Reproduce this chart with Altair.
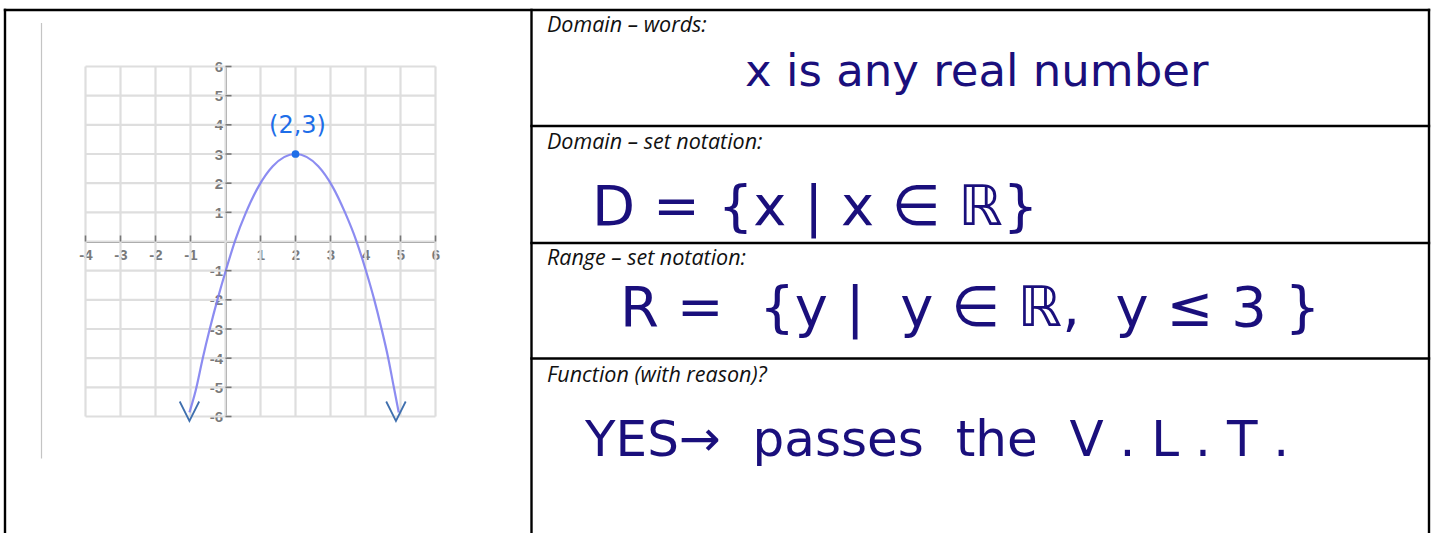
import altair as alt
import pandas as pd

# ---------------- data ----------------
# parabola through the vertex, sampled along the drawn curve
curve_x = [-1.03, -0.85, -0.65, -0.45, -0.22, 0.02, 0.28, 0.58, 0.95, 1.35, 2.0,
           2.65, 3.05, 3.42, 3.73, 4.0, 4.24, 4.46, 4.65, 4.81, 4.95]
curve_y = [-5.86, -5.1, -4.0, -3.0, -1.95, -0.95, 0.05, 0.98, 1.9, 2.58, 3.0,
           2.58, 1.9, 0.98, 0.05, -0.95, -1.95, -3.0, -4.0, -5.0, -5.86]

# arrowheads at both ends of the curve
arrow_x = [-1.03, 4.87]
arrow_y = [-5.82, -5.82]

# vertex
vertex_x = [2]
vertex_y = [3]
vertex_label = ["(2,3)"]

# axis ticks
x_ticks = [-4, -3, -2, -1, 0, 1, 2, 3, 4, 5, 6]
y_ticks = [-6, -5, -4, -3, -2, -1, 0, 1, 2, 3, 4, 5, 6]

# worksheet rows (non-breaking spaces keep the wide handwritten gaps)
NB = "\u00a0"
row_labels = ["Domain – words:", "Domain – set notation:",
              "Range – set notation:", "Function (with reason)?"]
row_answers = [
    "x is any real number",
    "D = {x | x ∈ ℝ}",
    f"R{NB}={NB}{NB}{{y{NB}|{NB}{NB}y{NB}∈{NB}ℝ,{NB}{NB}y{NB}≤{NB}3{NB}}}",
    f"YES→{NB}{NB}passes{NB}{NB}the{NB}{NB}V{NB}.{NB}L{NB}.{NB}T{NB}.",
]

# ---------------- layout (pixels) ----------------
W, H = 1432, 533
GX0, GX1 = 85.5, 435.5        # grid box, left/right
GY0, GY1 = 66.5, 416.5        # grid box, top/bottom
X_AXIS_Y = 241.5
Y_AXIS_X = 225.5

TABLE_L, TABLE_R, TABLE_T, TABLE_B = 5, 1429, 10, 545
COL_SPLIT = 531.5
ROW_LINES = [126, 243, 358.5]

label_x = 547
label_base = [32, 149, 265, 382]
answer_x = [745, 592, 620, 585]
answer_base = [86, 225, 326, 456]
answer_size = [45, 56, 56, 50]

INK = "#1a0f7c"
GRID = "#dedede"

# ---------------- graph ----------------
xs = alt.Scale(domain=[-4, 6], range=[GX0, GX1], nice=False, zero=False)
ys = alt.Scale(domain=[-6, 6], range=[GY1, GY0], nice=False, zero=False)

hide_zero = "datum.value == 0 ? '' : '' + datum.value"
common_axis = dict(
    grid=False, domainColor="#7c7c7c", domainWidth=2,
    ticks=False, tickSize=0,
    labelFont="Liberation Sans", labelFontSize=15, labelFontWeight="bold",
    labelColor="#7a7a7a",
    labelFlush=False, labelOverlap=False, labelExpr=hide_zero, title="",
)
x_axis = alt.Axis(orient="bottom", offset=X_AXIS_Y - H, values=x_ticks,
                  labelPadding=6, **common_axis)
y_axis = alt.Axis(orient="left", offset=-Y_AXIS_X, values=y_ticks,
                  labelPadding=3, **common_axis)

# grid lines at every tick, across the full grid box
vgrid_df = pd.DataFrame({"v": x_ticks, "lo": y_ticks[0], "hi": y_ticks[-1]})
vgrid = alt.Chart(vgrid_df).mark_rule(color=GRID, strokeWidth=2.2).encode(
    x=alt.X("v:Q", scale=xs, axis=x_axis),
    y=alt.Y("lo:Q", scale=ys, axis=y_axis), y2="hi:Q",
)
hgrid_df = pd.DataFrame({"v": y_ticks, "lo": x_ticks[0], "hi": x_ticks[-1]})
hgrid = alt.Chart(hgrid_df).mark_rule(color=GRID, strokeWidth=2.2).encode(
    y=alt.Y("v:Q", scale=ys), x=alt.X("lo:Q", scale=xs), x2="hi:Q",
)

curve_df = pd.DataFrame({"x": curve_x, "y": curve_y})
curve = alt.Chart(curve_df).mark_line(
    color="#8080f0", strokeWidth=2.2, interpolate="monotone", opacity=0.9
).encode(x=alt.X("x:Q", scale=xs), y=alt.Y("y:Q", scale=ys))

# short dark tick stubs: y ticks to the right of the y-axis, x ticks above the x-axis
ytick_df = pd.DataFrame({"v": [t for t in y_ticks if t != 0], "zero": 0})
ytick = alt.Chart(ytick_df).mark_rule(color="#777777", strokeWidth=1.6, x2Offset=6).encode(
    x=alt.X("zero:Q", scale=xs), x2="zero:Q", y=alt.Y("v:Q", scale=ys)
)
xtick_df = pd.DataFrame({"v": [t for t in x_ticks if t != 0], "zero": 0})
xtick = alt.Chart(xtick_df).mark_rule(color="#777777", strokeWidth=1.6, y2Offset=-6).encode(
    y=alt.Y("zero:Q", scale=ys), y2="zero:Q", x=alt.X("v:Q", scale=xs)
)

arrow_df = pd.DataFrame({"x": arrow_x, "y": arrow_y})
arrows = alt.Chart(arrow_df).mark_point(
    shape="M-1,-1L0,1L1,-1", size=380, filled=False,
    stroke="#3f6fae", strokeWidth=1.8, opacity=1
).encode(x=alt.X("x:Q", scale=xs), y=alt.Y("y:Q", scale=ys))

vertex_df = pd.DataFrame({"x": vertex_x, "y": vertex_y, "label": vertex_label})
vertex = alt.Chart(vertex_df).mark_point(
    filled=True, size=60, color="#1e6ee8", opacity=1
).encode(x=alt.X("x:Q", scale=xs), y=alt.Y("y:Q", scale=ys))
vertex_text = alt.Chart(vertex_df).mark_text(
    font="DejaVu Sans", fontSize=24, color="#1e6ee8", dx=2, dy=-28
).encode(x=alt.X("x:Q", scale=xs), y=alt.Y("y:Q", scale=ys), text="label:N")

graph = alt.layer(vgrid, hgrid, curve, ytick, xtick, arrows, vertex, vertex_text)

# ---------------- table ----------------
lines = [
    (TABLE_L, TABLE_R, TABLE_T, TABLE_T),
    (TABLE_L, TABLE_L, TABLE_T, TABLE_B),
    (TABLE_R, TABLE_R, TABLE_T, TABLE_B),
    (COL_SPLIT, COL_SPLIT, TABLE_T, TABLE_B),
] + [(COL_SPLIT, TABLE_R, y, y) for y in ROW_LINES]
lines_df = pd.DataFrame(lines, columns=["x", "x2", "y", "y2"])
borders = alt.Chart(lines_df).mark_rule(color="black", strokeWidth=2.4, strokeCap="square").encode(
    x=alt.X("x:Q", scale=None, axis=None), x2="x2:Q",
    y=alt.Y("y:Q", scale=None, axis=None), y2="y2:Q",
)

margin_df = pd.DataFrame({"x": [41.5], "y": [23], "y2": [458.5]})
margin = alt.Chart(margin_df).mark_rule(color="#c4c4c4", strokeWidth=1.2).encode(
    x=alt.X("x:Q", scale=None, axis=None),
    y=alt.Y("y:Q", scale=None, axis=None), y2="y2:Q",
)

rows_df = pd.DataFrame({
    "label": row_labels, "answer": row_answers,
    "lx": label_x, "ly": label_base,
    "ax": answer_x, "ay": answer_base, "fs": answer_size,
})
labels = alt.Chart(rows_df).mark_text(
    align="left", baseline="alphabetic", font="Open Sans",
    fontStyle="italic", fontSize=21.5, color="#111111"
).encode(
    x=alt.X("lx:Q", scale=None, axis=None),
    y=alt.Y("ly:Q", scale=None, axis=None),
    text="label:N",
)
answers = alt.Chart(rows_df).mark_text(
    align="left", baseline="alphabetic", font="DejaVu Sans", color=INK
).encode(
    x=alt.X("ax:Q", scale=None, axis=None),
    y=alt.Y("ay:Q", scale=None, axis=None),
    size=alt.Size("fs:Q", scale=None),
    text="answer:N",
)

chart = alt.layer(margin, graph, borders, labels, answers).properties(
    width=W, height=H, padding=0,
    autosize=alt.AutoSizeParams(type="none"),
).configure_view(stroke="transparent")

chart.save("out.html", embed_options={"renderer": "svg", "actions": False})
